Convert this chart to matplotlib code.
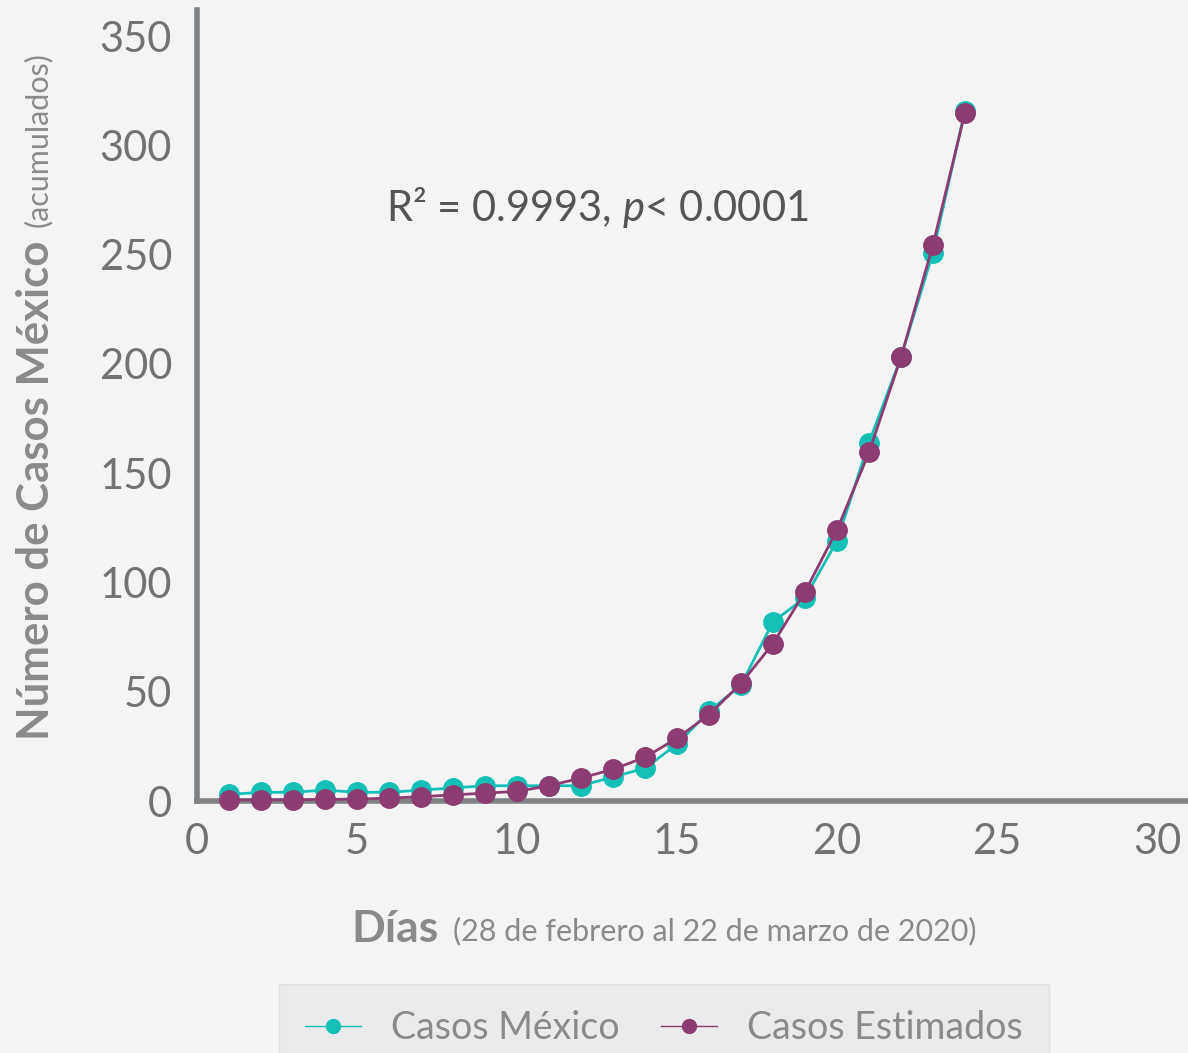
import matplotlib.pyplot as plt
from matplotlib.lines import Line2D

# dias desde el 28 de febrero
dias = list(range(1, 25))
casos_mexico = [3, 4, 4, 5, 4, 4, 5, 6, 7, 7, 7, 7, 11, 15, 26, 41, 53, 82, 93, 119, 164, 203, 251, 316]
casos_estimados = [0.5, 0.5, 0.6, 0.7, 0.9, 1.3, 2, 2.8, 3.6, 4.4, 7, 10.5, 14.5, 20, 28.7, 39.5, 53.8, 72,
                   95.7, 124, 159.5, 203, 254.5, 315]
xticks = [0, 5, 10, 15, 20, 25, 30]
yticks = [0, 50, 100, 150, 200, 250, 300, 350]

teal = "#14c0b6"
morado = "#8c3c70"
gris = "#7e8284"
gris_txt = "#8a8a8a"

plt.rcParams['font.family'] = ['Lato', 'DejaVu Sans']
plt.rcParams['mathtext.fontset'] = 'custom'
plt.rcParams['mathtext.it'] = 'Lato:italic'
plt.rcParams['mathtext.rm'] = 'Lato'

fig = plt.figure(figsize=(11.88, 10.53), dpi=100, facecolor="#f5f4f5")
ax = fig.add_axes([0.1658, 0.2393, 0.835, 0.7512])
ax.set_facecolor("none")

ax.plot(dias, casos_mexico, color=teal, lw=2, marker="o", ms=14, zorder=3, clip_on=False)
ax.plot(dias, casos_estimados, color=morado, lw=2, marker="o", ms=14, zorder=4, clip_on=False)

ax.set_xlim(0, 31)
ax.set_ylim(0, 362)
ax.set_xticks(xticks)
ax.set_yticks(yticks)
for s in ["top", "right"]:
    ax.spines[s].set_visible(False)
for s in ["left", "bottom"]:
    ax.spines[s].set_color(gris)
    ax.spines[s].set_linewidth(4)
ax.tick_params(length=0, labelsize=30, labelcolor="#727272")
ax.tick_params(axis="y", pad=18)
ax.tick_params(axis="x", pad=16)

# etiquetas de ejes
fig.text(0.030, 0.297, "Número de Casos México", rotation=90, fontsize=31.5, color=gris_txt,
         fontweight="bold", ha="center", va="bottom")
fig.text(0.032, 0.784, "(acumulados)", rotation=90, fontsize=22, color=gris_txt,
         ha="center", va="bottom")
fig.text(0.296, 0.118, "Días", fontsize=32, color=gris_txt, fontweight="bold", ha="left", va="center")
fig.text(0.381, 0.116, "(28 de febrero al 22 de marzo de 2020)", fontsize=22, color=gris_txt,
         ha="left", va="center")

fig.text(0.503, 0.803, "R² = 0.9993, $p$< 0.0001", fontsize=30,
         color="#555555", ha="center", va="center")

handles = [Line2D([], [], color=teal, lw=1, marker="o", ms=10),
           Line2D([], [], color=morado, lw=1, marker="o", ms=10)]
leg = fig.legend(handles, ["Casos México", "Casos Estimados"], loc="lower center",
                 bbox_to_anchor=(0.559, -0.036), ncol=2, fontsize=27, frameon=True,
                 fancybox=False, facecolor="#e9e9eb", edgecolor="#dddddd",
                 handlelength=1.5, columnspacing=1.1, borderpad=0.7)
for t in leg.get_texts():
    t.set_color(gris_txt)

fig.savefig("out.png", dpi=100, facecolor=fig.get_facecolor())
